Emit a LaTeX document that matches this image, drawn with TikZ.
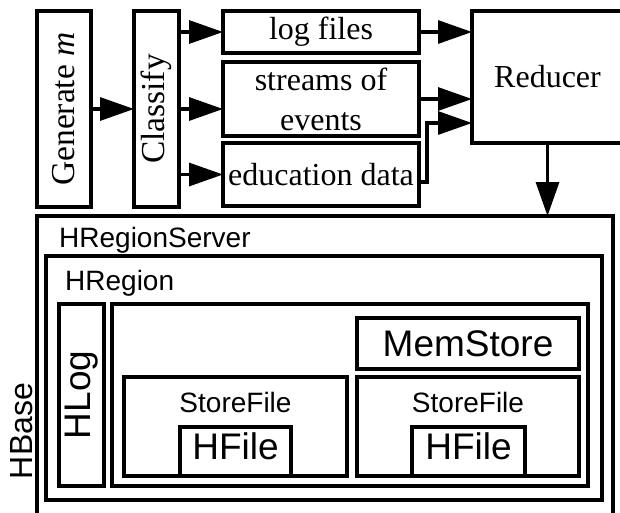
\documentclass[tikz,border=0pt]{standalone}
\usepackage{fontspec}
\setmainfont{Liberation Serif}
\setsansfont{Liberation Sans}
\usetikzlibrary{arrows.meta,calc}

\tikzset{
  box/.style={draw, rectangle, line width=3.2pt, inner sep=0pt, outer sep=0pt, align=center},
  flow/.style={line width=3.2pt, -{Triangle[length=34pt,width=23pt]}},
  serifbig/.style={font=\fontsize{32}{40}\selectfont},
  serifrot/.style={font=\fontsize{33.5}{40}\selectfont},
  sanslabel/.style={font=\sffamily\fontsize{28}{32}\selectfont},
  sansbig/.style={font=\sffamily\fontsize{37}{40}\selectfont},
}

\begin{document}
\begin{tikzpicture}[x=1pt, y=-1pt]
  \useasboundingbox (0,0) rectangle (620,512);

  % --- data pipeline (the two upright boxes are rotated: south = right side, north = left side) ---
  \node[box, serifrot, rotate=90, minimum width=196pt, minimum height=54pt] (gen) at (64,109) {Generate \textit{m}};
  \node[box, serifrot, rotate=90, minimum width=196pt, minimum height=45pt] (cls) at (156.5,109) {Classify};

  \node[box, serifbig, minimum width=196pt, minimum height=42pt] (log) at (321,32) {log files};
  \node[box, serifbig, minimum width=196pt, minimum height=74pt] (str) at (321,99) {streams of\\events};
  \node[box, serifbig, minimum width=196pt, minimum height=63pt] (edu) at (321,174.5) {education data};

  \node[box, serifbig, minimum width=151pt, minimum height=132pt] (red) at (547.5,77) {Reducer};

  \draw[flow] (gen.south) -- (cls.north);
  \draw[flow] (cls.south |- log.west) -- (log.west);
  \draw[flow] (cls.south) -- (cls.south -| str.west);
  \draw[flow] (cls.south |- edu.west) -- (edu.west);

  \draw[flow] (log.east) -- (log.east -| red.west);
  \draw[flow] (str.east) -- (str.east -| red.west);
  \draw[flow] ([yshift=-7.5pt]edu.east) -- ++(8,0) |- ([yshift=-46pt]red.west);

  % --- HBase storage ---
  \node[box, minimum width=576pt, minimum height=304pt] (srv) at (325,368) {};
  \node[box, minimum width=556pt, minimum height=244pt] (reg) at (324,378) {};
  \node[box, sansbig, rotate=90, minimum width=182pt, minimum height=45pt] (hlog) at (81.5,395) {HLog};
  \node[box, minimum width=476pt, minimum height=182pt] (cont) at (350,395) {};
  \node[box, sansbig, minimum width=222pt, minimum height=51pt] (mem) at (468,343.5) {MemStore};
  \node[box, minimum width=223pt, minimum height=99pt] (sfl) at (235.5,426.5) {};
  \node[box, minimum width=222pt, minimum height=99pt] (sfr) at (468,426.5) {};
  \node[box, sansbig, text depth=10pt, minimum width=111pt, minimum height=49pt] (hfl) at (235.5,451.5) {HFile};
  \node[box, sansbig, text depth=10pt, minimum width=113pt, minimum height=49pt] (hfr) at (468.5,451.5) {HFile};

  \node[sanslabel, inner sep=0pt] (sfltxt) at (235.5,402) {StoreFile};
  \node[sanslabel, inner sep=0pt] (sfrtxt) at (468,402) {StoreFile};
  \node[sanslabel, inner sep=0pt, anchor=base west] (srvtxt) at (59,247) {HRegionServer};
  \node[sanslabel, inner sep=0pt, anchor=base west] (regtxt) at (65,290) {HRegion};
  \node[font=\sffamily\fontsize{32}{36}\selectfont, inner sep=0pt, rotate=90] (hbase) at (21.5,431) {HBase};

  \draw[flow] (red.south) -- (red.south |- srv.north);
\end{tikzpicture}
\end{document}
